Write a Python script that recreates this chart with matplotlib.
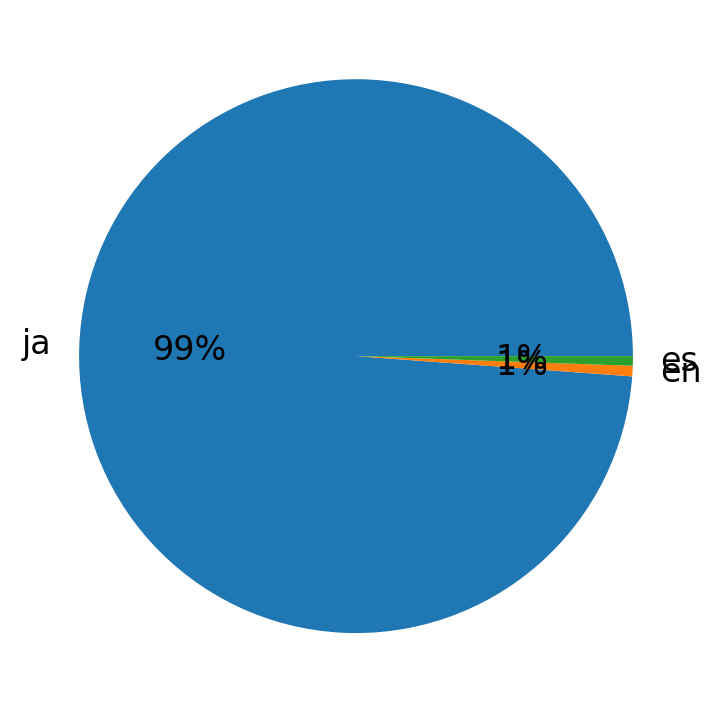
import matplotlib
matplotlib.use("Agg")
import matplotlib.pyplot as plt

labels = ["ja", "en", "es"]
counts = [1780, 11, 10]

fig = plt.figure(figsize=(7.14, 7.13), dpi=100)
ax = fig.add_axes([0.0136, 0.015, 0.970, 0.971])
ax.pie(counts, labels=labels, autopct="%1.0f%%", textprops={"fontsize": 24})
plt.savefig("out.png")
plt.close()
